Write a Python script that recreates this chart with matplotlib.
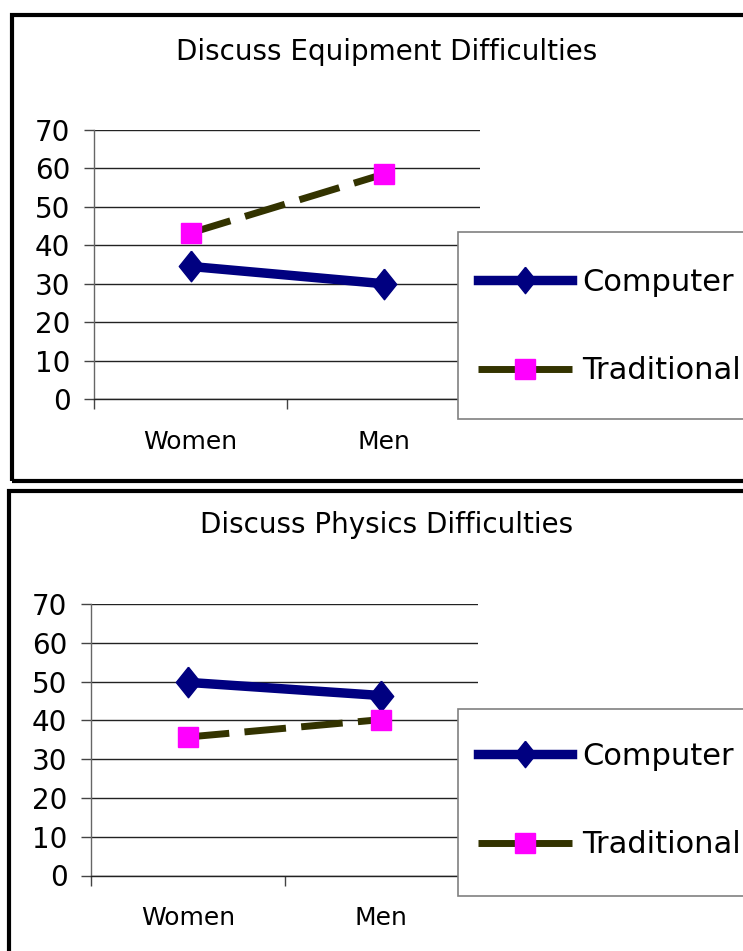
import numpy as np
import matplotlib
matplotlib.use("Agg")
import matplotlib.pyplot as plt
from matplotlib.patches import Rectangle

plt.rcParams['font.family'] = ['DejaVu Sans']

# --- data ---
categories = ['Women', 'Men']
series_names = ['Computer', 'Traditional']

equip_title = 'Discuss Equipment Difficulties'
equip_computer = [34.5, 30.0]
equip_traditional = [43.2, 58.5]

physics_title = 'Discuss Physics Difficulties'
physics_computer = [49.8, 46.4]
physics_traditional = [35.7, 40.2]

yticks = [0, 10, 20, 30, 40, 50, 60, 70]

# --- styles ---
W, H = 743, 951
navy = '#000080'
olive = '#333300'
magenta = '#ff00ff'
diamond = [(0, 1), (0.8, 0), (0, -1), (-0.8, 0), (0, 1)]


def fx(px):
    return px / W


def fy(py):
    return 1 - py / H


fig = plt.figure(figsize=(W / 100, H / 100), dpi=100)


def draw_panel(rect, title, title_y, computer, traditional, legend_box, legend_center):
    ax = fig.add_axes(rect)
    x = np.arange(len(categories))
    ax.plot(x, computer, color=navy, lw=6.8, marker=diamond, ms=22,
            mfc=navy, mec=navy, label=series_names[0], zorder=3)
    ax.plot(x, traditional, color=olive, lw=5, dashes=(6, 2.2),
            marker='s', ms=14, mfc=magenta, mec=magenta,
            label=series_names[1], zorder=3)

    ax.set_xlim(-0.5, 1.5)
    ax.set_ylim(0, 70)
    ax.set_yticks(yticks)
    ax.yaxis.grid(True, color='#222222', lw=1)
    ax.set_axisbelow(True)
    for s in ['top', 'right']:
        ax.spines[s].set_visible(False)
    ax.spines['bottom'].set_color('#222222')
    ax.spines['bottom'].set_linewidth(1)
    ax.spines['left'].set_color('#666666')
    ax.spines['left'].set_linewidth(1)

    # boundary ticks on the category axis, labels centred between them
    ax.set_xticks([-0.5, 0.5, 1.5])
    ax.set_xticklabels([])
    ax.set_xticks(x, minor=True)
    ax.set_xticklabels(categories, minor=True, fontsize=18)
    ax.tick_params(axis='x', which='major', length=7, width=1, color='#444444')
    ax.tick_params(axis='x', which='minor', length=0, pad=22)
    ax.tick_params(axis='y', length=7, width=1, color='#444444', pad=10, labelsize=20)

    fig.text(fx(387), fy(title_y), title, ha='center', va='center', fontsize=20)

    # legend box
    lx, ly, lw_, lh = legend_box
    fig.add_artist(Rectangle((fx(lx), fy(ly + lh)), lw_ / W, lh / H,
                             transform=fig.transFigure, facecolor='white',
                             edgecolor='#808080', lw=1.2, zorder=4))
    handles, labels = ax.get_legend_handles_labels()
    leg = fig.legend(handles, labels, loc='center left',
                     bbox_to_anchor=(fx(478), fy(legend_center)),
                     frameon=False, fontsize=22, borderpad=0, borderaxespad=0,
                     handlelength=3.07, handletextpad=0.35, labelspacing=1.95)
    leg.set_zorder(5)
    leg.legend_handles[0].set_markersize(19)
    leg.legend_handles[1].set_markersize(15)
    return ax


draw_panel([fx(94), fy(399), fx(480) - fx(94), (399 - 130) / H],
           equip_title, 52, equip_computer, equip_traditional,
           (458, 232, 300, 187), 326.5)

draw_panel([fx(91), fy(875.5), fx(478) - fx(91), (875.5 - 604) / H],
           physics_title, 525, physics_computer, physics_traditional,
           (458, 709, 300, 187), 800.5)

# thick panel frames (right and lower sides run off the page)
fig.add_artist(Rectangle((fx(12), fy(481.5)), (780 - 12) / W, (481.5 - 15.5) / H,
                         transform=fig.transFigure, fill=False,
                         edgecolor='black', lw=3, zorder=10))
fig.add_artist(Rectangle((fx(9), fy(990)), (780 - 9) / W, (990 - 490.5) / H,
                         transform=fig.transFigure, fill=False,
                         edgecolor='black', lw=3, zorder=10))

fig.savefig('out.png', dpi=100)
